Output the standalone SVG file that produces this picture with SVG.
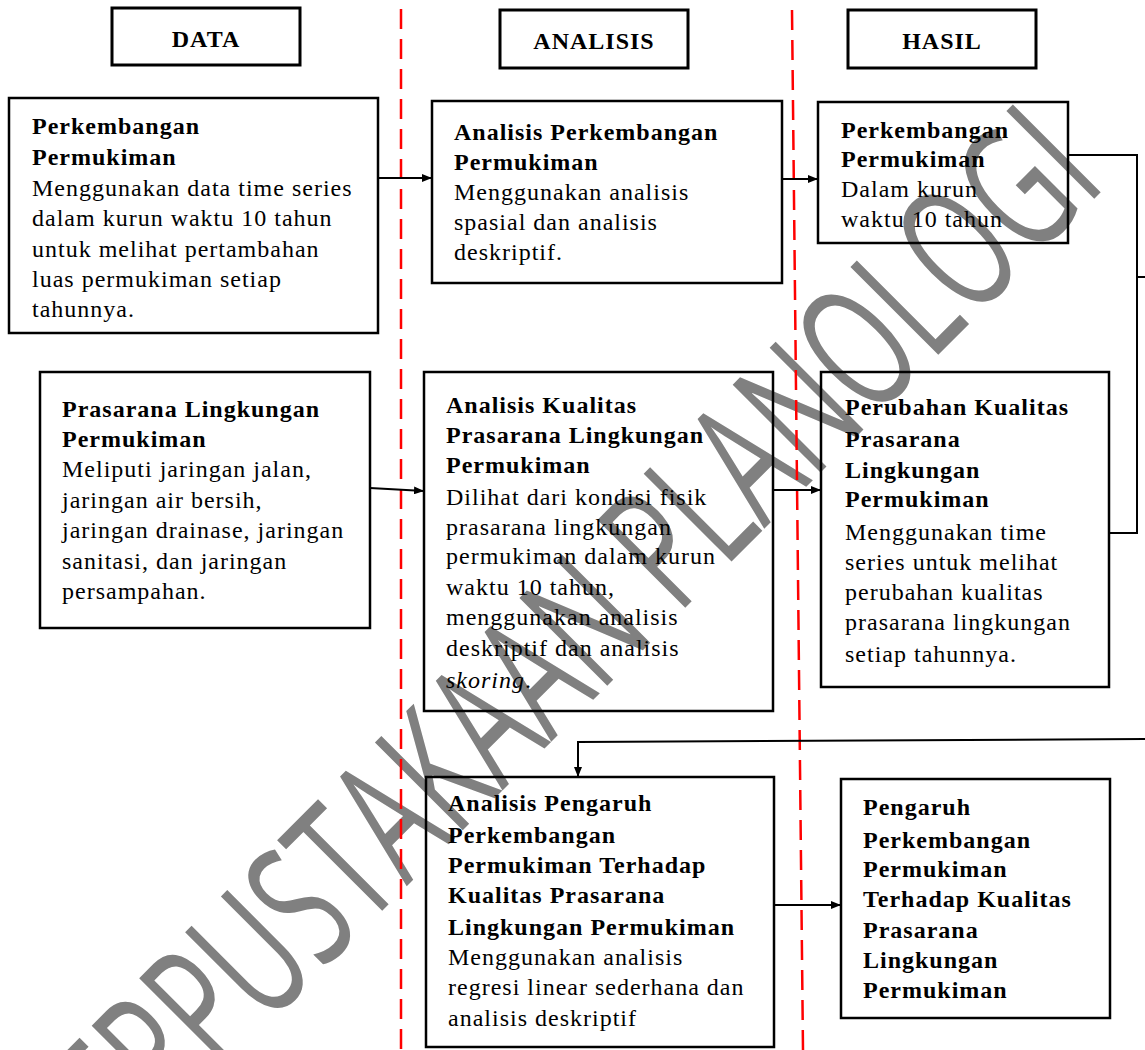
<svg xmlns="http://www.w3.org/2000/svg" width="1145" height="1050" viewBox="0 0 1145 1050">
<style>
.bx{fill:none;stroke:#000;stroke-width:2.5}
.hb{fill:none;stroke:#000;stroke-width:3}
.t{font-family:"Liberation Serif","Times New Roman",serif;font-size:24px;fill:#000;letter-spacing:1px}
.b{font-weight:bold}
.h{font-family:"Liberation Serif","Times New Roman",serif;font-size:24px;font-weight:bold;text-anchor:middle;letter-spacing:1px}
.c{fill:none;stroke:#000;stroke-width:2}
.rd{stroke:#ff0000;stroke-width:2.5;stroke-dasharray:20 10;fill:none}
.wm{font-family:"Open Sans","Lato","Liberation Sans",sans-serif;font-weight:400;font-size:174px;fill:#808080}
</style>
<defs>
<marker id="ah" markerUnits="userSpaceOnUse" markerWidth="10" markerHeight="8" refX="10" refY="4" orient="auto">
<path d="M0,0 L10,4 L0,8 z" fill="#000"/>
</marker>
</defs>
<rect width="1145" height="1050" fill="#fff"/>
<text class="wm" transform="translate(83,1210) rotate(-45)" textLength="1450" lengthAdjust="spacingAndGlyphs">PERPUSTAKAAN PLANOLOGI</text>
<g id="dividers">
<line class="rd" x1="401" y1="9" x2="401" y2="1050"/>
<line class="rd" x1="792" y1="10" x2="803" y2="1050"/>
</g>
<g id="hdr-data"><rect class="hb" x="112" y="8" width="188" height="57"/><text class="h" x="206" y="47">DATA</text></g>
<g id="hdr-analisis"><rect class="hb" x="500" y="10" width="188" height="58"/><text class="h" x="594" y="49">ANALISIS</text></g>
<g id="hdr-hasil"><rect class="hb" x="848" y="10" width="188" height="58"/><text class="h" x="942" y="49">HASIL</text></g>
<g id="n-data1">
<rect class="bx" x="9" y="98" width="369" height="235"/>
<text class="t b" x="32" y="134">Perkembangan</text>
<text class="t b" x="32" y="165">Permukiman</text>
<text class="t" x="32" y="196">Menggunakan data time series</text>
<text class="t" x="32" y="226">dalam kurun waktu 10 tahun</text>
<text class="t" x="32" y="257">untuk melihat pertambahan</text>
<text class="t" x="32" y="287">luas permukiman setiap</text>
<text class="t" x="32" y="317">tahunnya.</text>
</g>
<g id="n-analisis1">
<rect class="bx" x="432" y="101" width="350" height="182"/>
<text class="t b" x="454" y="140">Analisis Perkembangan</text>
<text class="t b" x="454" y="170">Permukiman</text>
<text class="t" x="454" y="200">Menggunakan analisis</text>
<text class="t" x="454" y="230">spasial dan analisis</text>
<text class="t" x="454" y="260">deskriptif.</text>
</g>
<g id="n-hasil1">
<rect class="bx" x="818" y="102" width="250" height="141"/>
<text class="t b" x="841" y="138">Perkembangan</text>
<text class="t b" x="841" y="167">Permukiman</text>
<text class="t" x="841" y="197">Dalam kurun</text>
<text class="t" x="841" y="227">waktu 10 tahun</text>
</g>
<g id="n-data2">
<rect class="bx" x="40" y="372" width="330" height="256"/>
<text class="t b" x="62" y="417">Prasarana Lingkungan</text>
<text class="t b" x="62" y="447">Permukiman</text>
<text class="t" x="62" y="477">Meliputi jaringan jalan,</text>
<text class="t" x="62" y="508">jaringan air bersih,</text>
<text class="t" x="62" y="538">jaringan drainase, jaringan</text>
<text class="t" x="62" y="569">sanitasi, dan jaringan</text>
<text class="t" x="62" y="599">persampahan.</text>
</g>
<g id="n-analisis2">
<rect class="bx" x="424" y="372" width="349" height="339"/>
<text class="t b" x="446" y="413">Analisis Kualitas</text>
<text class="t b" x="446" y="443">Prasarana Lingkungan</text>
<text class="t b" x="446" y="473">Permukiman</text>
<text class="t" x="446" y="505">Dilihat dari kondisi fisik</text>
<text class="t" x="446" y="535">prasarana lingkungan</text>
<text class="t" x="446" y="564">permukiman dalam kurun</text>
<text class="t" x="446" y="595">waktu 10 tahun,</text>
<text class="t" x="446" y="625">menggunakan analisis</text>
<text class="t" x="446" y="656">deskriptif dan analisis</text>
<text class="t" x="446" y="688"><tspan font-style="italic">skoring</tspan>.</text>
</g>
<g id="n-hasil2">
<rect class="bx" x="821" y="372" width="288" height="315"/>
<text class="t b" x="845" y="415">Perubahan Kualitas</text>
<text class="t b" x="845" y="447">Prasarana</text>
<text class="t b" x="845" y="478">Lingkungan</text>
<text class="t b" x="845" y="507">Permukiman</text>
<text class="t" x="845" y="540">Menggunakan time</text>
<text class="t" x="845" y="570">series untuk melihat</text>
<text class="t" x="845" y="600">perubahan kualitas</text>
<text class="t" x="845" y="630">prasarana lingkungan</text>
<text class="t" x="845" y="662">setiap tahunnya.</text>
</g>
<g id="n-analisis3">
<rect class="bx" x="426" y="777" width="348" height="270"/>
<text class="t b" x="448" y="811">Analisis Pengaruh</text>
<text class="t b" x="448" y="843">Perkembangan</text>
<text class="t b" x="448" y="873">Permukiman Terhadap</text>
<text class="t b" x="448" y="903">Kualitas Prasarana</text>
<text class="t b" x="448" y="935">Lingkungan Permukiman</text>
<text class="t" x="448" y="965">Menggunakan analisis</text>
<text class="t" x="448" y="995">regresi linear sederhana dan</text>
<text class="t" x="448" y="1026">analisis deskriptif</text>
</g>
<g id="n-hasil3">
<rect class="bx" x="841" y="779" width="269" height="239"/>
<text class="t b" x="863" y="815">Pengaruh</text>
<text class="t b" x="863" y="848">Perkembangan</text>
<text class="t b" x="863" y="877">Permukiman</text>
<text class="t b" x="863" y="907">Terhadap Kualitas</text>
<text class="t b" x="863" y="938">Prasarana</text>
<text class="t b" x="863" y="968">Lingkungan</text>
<text class="t b" x="863" y="998">Permukiman</text>
</g>
<g id="connectors">
<path class="c" d="M378,178 L432,178" marker-end="url(#ah)"/>
<path class="c" d="M782,179 L818,179" marker-end="url(#ah)"/>
<path class="c" d="M1068,155 H1137 V533 H1109"/>
<path class="c" d="M1137,277 H1145"/>
<path class="c" d="M370,488 L424,491" marker-end="url(#ah)"/>
<path class="c" d="M773,490 L821,490" marker-end="url(#ah)"/>
<path class="c" d="M1145,739 L578,742 V777" marker-end="url(#ah)"/>
<path class="c" d="M774,905 L841,905" marker-end="url(#ah)"/>
</g>
</svg>
